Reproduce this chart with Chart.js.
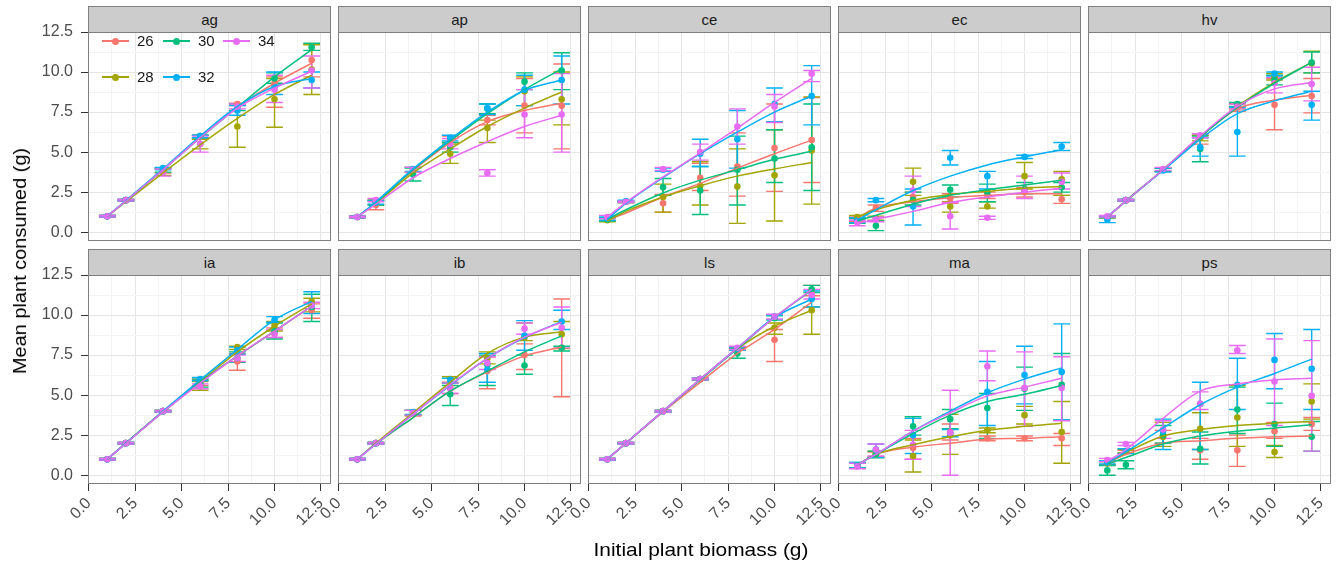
<!DOCTYPE html>
<html>
<head>
<meta charset="utf-8">
<script src="https://cdn.jsdelivr.net/npm/chart.js@4.4.0/dist/chart.umd.min.js"></script>
<style>
    body { margin: 0; background: #fff; font-family: 'Liberation Sans', Arial, sans-serif; }
    #wrap { position: relative; width: 1343px; height: 564px; overflow: hidden; }
    .cell { position: absolute; }
    .strip { position: absolute; background: #cccccc; border: 1px solid #7f7f7f; box-sizing: border-box;
             text-align: center; font-size: 15px; color: #1a1a1a; }
    .title { position: absolute; font-size: 19px; color: #000; white-space: nowrap; }
    .key { position: absolute; height: 1.5px; width: 27px; }
    .dot { position: absolute; width: 7px; height: 7px; border-radius: 50%; left: 10px; top: -2.75px; }
    .ltext { position: absolute; font-size: 15px; color: #1a1a1a; line-height: 16px; }
</style>
</head>
<body>
<div id="wrap"></div>
<script>
const xVals = [1, 2, 4, 6, 8, 10, 12];
const temps = ['26', '28', '30', '32', '34'];
const colors = ['#F8766D', '#A3A500', '#00BF7D', '#00B0F6', '#E76BF3'];

// rows: 26, 28, 30, 32, 34 ; columns: xVals
const agMean = [[1.0, 2.0, 3.85, 5.95, 8.0, 9.3, 10.75], [1.0, 2.0, 3.8, 5.5, 6.6, 8.3, 10.15], [1.0, 2.0, 3.9, 6.0, 7.8, 9.6, 11.55], [1.0, 2.0, 4.0, 6.0, 7.6, 9.1, 9.5], [1.0, 2.0, 3.75, 5.5, 7.85, 8.9, 10.1]];
const agLo = [[0.95, 1.95, 3.7, 5.85, 7.9, 7.8, 9.7], [0.95, 1.95, 3.55, 5.2, 5.3, 6.55, 8.6], [0.95, 1.95, 3.75, 5.9, 7.6, 9.3, 11.35], [0.95, 1.95, 3.9, 5.9, 7.3, 8.6, 9.0], [0.95, 1.95, 3.5, 5.0, 7.7, 8.1, 9.0]];
const agHi = [[1.05, 2.05, 4.0, 6.05, 8.05, 9.7, 11.75], [1.05, 2.05, 4.0, 5.8, 7.95, 9.6, 11.7], [1.05, 2.05, 4.0, 6.05, 8.0, 9.95, 11.8], [1.05, 2.05, 4.05, 6.05, 7.9, 10.0, 10.0], [1.05, 2.05, 3.95, 6.0, 8.0, 9.8, 11.0]];
const agFit = [[1.0, 1.95, 3.9, 5.9, 7.8, 9.3, 10.55], [1.0, 1.9, 3.7, 5.45, 7.1, 8.6, 9.8], [1.0, 1.95, 3.9, 5.9, 7.8, 9.7, 11.4], [1.0, 1.97, 3.95, 6.0, 7.85, 9.1, 9.6], [1.0, 1.95, 3.9, 5.9, 7.75, 9.0, 10.05]];

const apMean = [[0.95, 1.7, 3.9, 5.8, 7.0, 7.9, 7.9], [0.95, 1.85, 3.9, 4.9, 6.5, 8.8, 8.3], [0.95, 1.85, 3.6, 5.3, 7.7, 9.4, 10.1], [0.95, 1.85, 3.95, 5.9, 7.75, 8.9, 9.5], [0.95, 2.0, 3.9, 5.5, 3.7, 7.35, 7.35]];
const apLo = [[0.9, 1.4, 3.75, 5.6, 6.7, 6.2, 5.2], [0.9, 1.7, 3.75, 4.3, 5.6, 7.9, 6.7], [0.9, 1.7, 3.2, 5.0, 7.4, 8.9, 8.9], [0.9, 1.75, 3.8, 5.7, 7.35, 7.9, 8.0], [0.9, 1.9, 3.75, 5.2, 3.5, 5.9, 5.0]];
const apHi = [[1.0, 2.0, 4.05, 6.0, 7.3, 9.6, 10.5], [1.0, 2.0, 4.05, 5.5, 7.0, 9.7, 10.0], [1.0, 2.0, 4.0, 5.6, 8.0, 9.95, 11.2], [1.0, 1.95, 4.05, 6.05, 8.0, 9.8, 11.0], [1.0, 2.1, 4.05, 5.85, 3.9, 8.9, 9.9]];
const apFit = [[0.95, 1.85, 3.85, 5.6, 6.9, 7.6, 8.05], [0.95, 1.8, 3.7, 5.2, 6.6, 7.75, 8.75], [0.95, 1.85, 3.9, 5.7, 7.4, 8.9, 10.2], [0.95, 1.9, 3.95, 5.8, 7.5, 8.85, 9.5], [0.95, 1.75, 3.4, 4.6, 5.65, 6.6, 7.3]];

const ceMean = [[0.8, 1.9, 1.8, 3.4, 4.1, 5.25, 5.75], [0.75, 1.9, 2.2, 2.9, 2.85, 3.55, 5.1], [0.8, 1.9, 2.8, 2.6, 3.9, 4.6, 5.3], [0.85, 1.95, 3.9, 4.9, 5.8, 8.0, 8.5], [0.95, 1.9, 3.95, 5.0, 6.6, 7.85, 9.9]];
const ceLo = [[0.7, 1.85, 1.25, 2.6, 2.25, 2.55, 3.1], [0.65, 1.85, 1.25, 1.7, 0.55, 0.7, 1.75], [0.7, 1.85, 2.3, 1.1, 1.7, 3.1, 2.6], [0.75, 1.9, 3.8, 4.1, 4.0, 6.9, 6.7], [0.85, 1.85, 3.85, 4.5, 5.5, 6.85, 9.4]];
const ceHi = [[0.9, 1.95, 2.35, 4.3, 6.2, 8.0, 8.4], [0.85, 1.95, 3.0, 4.4, 5.2, 6.4, 8.45], [0.9, 1.95, 3.35, 4.1, 6.0, 6.4, 8.0], [0.95, 2.0, 4.0, 5.8, 7.6, 9.0, 10.4], [1.05, 1.95, 4.05, 5.5, 7.7, 8.6, 10.1]];
const ceFit = [[0.75, 1.2, 2.2, 3.05, 4.0, 4.9, 5.75], [0.7, 1.3, 2.2, 2.9, 3.5, 3.95, 4.35], [0.8, 1.4, 2.45, 3.25, 3.9, 4.55, 5.05], [0.8, 1.8, 3.4, 4.9, 6.25, 7.5, 8.5], [0.95, 1.85, 3.45, 4.95, 6.5, 8.1, 9.6]];

const ecMean = [[0.8, 1.5, 2.2, 2.1, 2.3, 2.5, 2.05], [0.95, 0.87, 3.15, 1.6, 1.6, 3.5, 3.3], [0.7, 0.4, 2.0, 2.65, 2.5, 2.7, 2.8], [0.75, 2.0, 1.6, 4.65, 3.5, 4.7, 5.35], [0.6, 0.8, 2.6, 1.0, 0.9, 2.6, 3.15]];
const ecLo = [[0.65, 1.3, 1.9, 1.8, 2.1, 2.2, 1.8], [0.85, 0.75, 2.3, 1.25, 1.5, 2.7, 2.3], [0.55, 0.1, 1.7, 2.2, 1.9, 2.4, 2.5], [0.6, 1.9, 0.45, 4.2, 2.7, 4.6, 5.1], [0.4, 0.65, 1.6, 0.2, 0.8, 2.1, 2.7]];
const ecHi = [[0.95, 1.7, 2.5, 2.4, 2.5, 2.8, 2.3], [1.05, 1.0, 4.0, 1.9, 1.9, 4.35, 3.8], [0.85, 0.7, 2.5, 2.95, 3.0, 3.1, 3.1], [0.9, 2.1, 2.7, 5.1, 3.8, 4.8, 5.6], [0.75, 0.95, 3.5, 1.85, 1.0, 3.5, 3.7]];
const ecFit = [[0.9, 1.5, 1.9, 2.15, 2.3, 2.4, 2.4], [0.95, 1.4, 2.0, 2.35, 2.55, 2.75, 2.85], [0.7, 1.05, 1.75, 2.3, 2.65, 2.95, 3.25], [0.75, 1.4, 2.6, 3.5, 4.2, 4.7, 5.15], [0.55, 0.8, 1.3, 1.85, 2.2, 2.5, 2.75]];

const hvMean = [[0.95, 2.0, 3.9, 5.9, 7.8, 7.95, 8.5], [0.95, 2.0, 3.9, 5.9, 7.9, 9.7, 10.55], [0.95, 2.0, 3.9, 5.2, 8.0, 9.5, 10.6], [0.8, 2.0, 3.85, 5.3, 6.25, 9.9, 7.95], [1.0, 2.0, 3.95, 6.05, 7.85, 9.3, 9.25]];
const hvLo = [[0.9, 1.95, 3.8, 5.5, 7.55, 6.4, 7.45], [0.9, 1.95, 3.8, 5.7, 7.7, 9.5, 9.95], [0.9, 1.95, 3.8, 4.4, 7.85, 9.2, 9.95], [0.6, 1.95, 3.75, 4.75, 4.75, 9.75, 7.0], [0.95, 1.95, 3.85, 5.9, 7.7, 8.7, 8.2]];
const hvHi = [[1.0, 2.05, 4.0, 6.05, 8.0, 9.6, 9.6], [1.0, 2.05, 4.0, 6.05, 8.05, 9.9, 11.3], [1.0, 2.05, 4.0, 6.0, 8.1, 9.8, 11.25], [1.0, 2.05, 4.0, 5.9, 7.8, 10.0, 8.8], [1.05, 2.05, 4.05, 6.15, 8.0, 9.65, 10.3]];
const hvFit = [[0.95, 1.95, 3.9, 5.95, 7.7, 8.25, 8.55], [0.95, 1.95, 3.9, 5.95, 7.85, 9.35, 10.6], [0.95, 1.95, 3.9, 5.95, 7.8, 9.3, 10.6], [0.95, 1.95, 3.85, 5.8, 7.4, 8.2, 8.8], [0.95, 1.95, 3.9, 6.0, 7.85, 8.95, 9.35]];

const iaMean = [[1.0, 2.0, 4.0, 5.8, 7.1, 8.9, 10.3], [1.0, 2.0, 4.0, 5.55, 8.0, 9.35, 10.85], [1.0, 2.0, 4.0, 5.7, 7.3, 9.0, 10.5], [1.0, 2.0, 4.0, 6.0, 7.8, 9.7, 10.6], [1.0, 2.0, 4.0, 5.55, 7.3, 8.8, 10.6]];
const iaLo = [[0.95, 1.95, 3.95, 5.6, 6.55, 8.6, 9.8], [0.95, 1.95, 3.95, 5.3, 7.85, 9.0, 10.2], [0.95, 1.95, 3.95, 5.5, 7.05, 8.5, 9.6], [0.95, 1.95, 3.95, 5.9, 7.55, 9.55, 10.1], [0.95, 1.95, 3.95, 5.4, 7.1, 8.6, 10.4]];
const iaHi = [[1.05, 2.05, 4.05, 6.0, 7.6, 9.2, 10.7], [1.05, 2.05, 4.05, 5.85, 8.05, 9.6, 11.05], [1.05, 2.05, 4.05, 6.0, 7.7, 9.5, 11.3], [1.05, 2.05, 4.05, 6.1, 8.0, 9.9, 11.45], [1.05, 2.05, 4.05, 5.7, 7.5, 9.1, 10.8]];
const iaFit = [[1.0, 2.0, 3.95, 5.8, 7.45, 9.0, 10.55], [1.0, 2.0, 4.0, 5.85, 7.7, 9.3, 10.7], [1.0, 2.0, 3.95, 5.8, 7.45, 9.0, 10.55], [1.0, 2.0, 4.0, 5.95, 7.85, 9.7, 10.85], [1.0, 1.98, 3.95, 5.75, 7.45, 9.0, 10.55]];

const ibMean = [[1.0, 2.0, 3.9, 5.5, 6.5, 7.5, 7.95], [1.0, 2.0, 3.9, 6.0, 7.3, 8.6, 8.8], [1.0, 2.0, 3.9, 5.05, 6.9, 6.85, 7.95], [1.0, 2.0, 3.95, 5.95, 6.6, 8.7, 9.6], [1.0, 2.0, 3.9, 5.4, 7.0, 9.15, 9.2]];
const ibLo = [[0.95, 1.95, 3.7, 5.1, 5.4, 6.6, 4.9], [0.95, 1.95, 3.75, 5.75, 6.95, 8.4, 7.9], [0.95, 1.95, 3.75, 4.35, 5.6, 6.3, 7.75], [0.95, 1.95, 3.8, 5.75, 5.8, 7.8, 9.1], [0.95, 1.95, 3.75, 5.1, 6.6, 8.8, 7.95]];
const ibHi = [[1.05, 2.05, 4.05, 5.8, 7.4, 8.2, 11.0], [1.05, 2.05, 4.05, 6.15, 7.7, 9.5, 9.6], [1.05, 2.05, 4.05, 5.6, 7.5, 7.5, 8.05], [1.05, 2.05, 4.05, 6.05, 7.6, 9.65, 10.3], [1.05, 2.05, 4.05, 5.75, 7.4, 9.5, 10.5]];
const ibFit = [[1.0, 1.95, 3.6, 5.25, 6.45, 7.45, 8.0], [1.0, 2.0, 3.9, 5.8, 7.6, 8.62, 8.95], [1.0, 1.95, 3.6, 5.25, 6.5, 7.7, 8.7], [1.0, 1.95, 3.8, 5.6, 7.3, 8.6, 9.6], [1.0, 1.95, 3.8, 5.65, 7.3, 8.62, 9.55]];

const lsMean = [[1.0, 2.0, 4.0, 6.0, 7.9, 8.45, 11.4], [1.0, 2.0, 4.0, 6.0, 7.9, 9.2, 10.3], [1.0, 2.0, 4.0, 6.0, 7.6, 9.8, 11.6], [1.0, 2.0, 4.0, 6.0, 7.9, 9.9, 11.0], [1.0, 2.0, 4.0, 6.0, 7.95, 9.9, 11.25]];
const lsLo = [[0.95, 1.95, 3.95, 5.95, 7.8, 7.1, 11.2], [0.95, 1.95, 3.95, 5.95, 7.8, 8.8, 8.8], [0.95, 1.95, 3.95, 5.95, 7.3, 9.7, 11.4], [0.95, 1.95, 3.95, 5.95, 7.8, 9.7, 10.5], [0.95, 1.95, 3.95, 5.95, 7.85, 9.75, 11.0]];
const lsHi = [[1.05, 2.05, 4.05, 6.05, 8.0, 9.1, 11.85], [1.05, 2.05, 4.05, 6.05, 8.0, 9.5, 10.5], [1.05, 2.05, 4.05, 6.05, 7.9, 9.95, 11.85], [1.05, 2.05, 4.05, 6.05, 8.0, 10.0, 11.5], [1.05, 2.05, 4.05, 6.05, 8.05, 10.05, 11.6]];
const lsFit = [[1.0, 2.0, 3.95, 5.8, 7.6, 9.1, 10.8], [1.0, 2.0, 4.0, 5.95, 7.9, 9.3, 10.3], [1.0, 2.0, 4.0, 5.95, 7.9, 9.85, 11.55], [1.0, 2.0, 4.0, 6.0, 7.95, 9.85, 11.0], [1.0, 2.0, 4.0, 6.0, 7.95, 9.85, 11.6]];

const maMean = [[0.6, 1.3, 1.7, 2.7, 2.3, 2.3, 2.3], [0.6, 1.3, 1.2, 2.5, 2.8, 3.75, 2.7], [0.6, 1.3, 3.05, 3.5, 4.2, 5.4, 5.65], [0.6, 1.6, 2.5, 2.6, 5.2, 6.25, 6.45], [0.55, 1.6, 1.9, 2.65, 6.8, 5.45, 5.45]];
const maLo = [[0.45, 1.15, 1.0, 2.2, 2.15, 2.15, 1.85], [0.45, 1.1, 0.2, 1.3, 2.65, 3.2, 0.75], [0.45, 1.1, 2.5, 2.9, 2.3, 4.05, 3.45], [0.45, 1.1, 1.35, 2.4, 3.1, 4.45, 3.45], [0.4, 1.2, 1.0, 0.0, 5.9, 3.05, 3.4]];
const maHi = [[0.75, 1.45, 2.3, 3.2, 2.45, 2.45, 2.6], [0.75, 1.5, 2.2, 3.8, 2.95, 4.3, 4.6], [0.8, 1.5, 3.65, 4.1, 5.1, 6.75, 7.6], [0.8, 1.95, 3.55, 2.85, 7.1, 8.05, 9.45], [0.75, 1.95, 2.8, 5.3, 7.75, 7.7, 7.4]];
const maFit = [[0.65, 1.3, 1.75, 2.0, 2.25, 2.3, 2.4], [0.65, 1.3, 1.9, 2.4, 2.8, 3.05, 3.25], [0.65, 1.3, 2.6, 3.75, 4.6, 5.05, 5.6], [0.65, 1.3, 2.75, 4.0, 5.15, 6.0, 6.7], [0.65, 1.3, 2.75, 3.9, 4.95, 5.5, 6.05]];

const psMean = [[0.75, 1.45, 2.4, 1.55, 1.55, 2.75, 3.2], [0.75, 1.5, 2.4, 2.9, 3.6, 1.45, 4.6], [0.3, 0.65, 2.5, 1.65, 4.1, 3.2, 2.4], [0.8, 1.5, 2.75, 4.45, 5.65, 7.2, 6.65], [0.95, 1.95, 2.85, 4.45, 7.8, 5.85, 4.95]];
const psLo = [[0.65, 1.35, 2.0, 1.0, 0.55, 2.3, 2.8], [0.65, 1.4, 1.8, 1.6, 1.8, 1.1, 3.5], [0.0, 0.4, 2.0, 0.7, 2.6, 1.8, 1.5], [0.7, 1.35, 1.6, 1.6, 4.1, 5.4, 4.1], [0.85, 1.85, 2.3, 4.1, 7.6, 3.1, 1.5]];
const psHi = [[0.85, 1.55, 2.8, 2.3, 2.5, 3.3, 3.6], [0.85, 1.6, 3.3, 3.9, 5.6, 1.85, 5.7], [0.6, 0.9, 3.1, 2.7, 5.5, 4.5, 3.35], [0.9, 1.65, 3.5, 5.8, 7.3, 8.85, 9.1], [1.05, 2.05, 3.4, 5.2, 8.1, 8.5, 8.4]];
const psFit = [[0.75, 1.3, 2.0, 2.15, 2.3, 2.4, 2.45], [0.75, 1.4, 2.45, 2.85, 3.1, 3.25, 3.35], [0.7, 1.1, 1.95, 2.45, 2.75, 2.95, 3.15], [0.75, 1.45, 2.95, 4.4, 5.5, 6.35, 7.25], [0.85, 1.6, 3.55, 5.25, 5.7, 5.95, 6.05]];

const panels = [
    ['ag', agMean, agLo, agHi, agFit], ['ap', apMean, apLo, apHi, apFit],
    ['ce', ceMean, ceLo, ceHi, ceFit], ['ec', ecMean, ecLo, ecHi, ecFit],
    ['hv', hvMean, hvLo, hvHi, hvFit], ['ia', iaMean, iaLo, iaHi, iaFit],
    ['ib', ibMean, ibLo, ibHi, ibFit], ['ls', lsMean, lsLo, lsHi, lsFit],
    ['ma', maMean, maLo, maHi, maFit], ['ps', psMean, psLo, psHi, psFit]
];

// layout of the facet grid (pixels)
const colLeft = [88, 338, 588, 838, 1088];
const rowTop = [32, 275];
const plotW = 243, plotH = 209, stripH = 27;
const padL = 88, padR = 30, padT = 30, padB = 70;

Chart.defaults.font.family = "'Liberation Sans', Arial, sans-serif";

const isMajor = v => Math.abs(v / 2.5 - Math.round(v / 2.5)) < 1e-6;

const errorBars = {
    id: 'errorBars',
    beforeDatasetsDraw(chart) {
        const { ctx, chartArea: a, scales: { x, y } } = chart;
        ctx.save();
        ctx.beginPath();
        ctx.rect(a.left, a.top, a.width, a.height);
        ctx.clip();
        ctx.lineWidth = 1.4;
        chart.data.datasets.forEach(ds => {
            if (!ds.errLo) return;
            ctx.strokeStyle = ds.backgroundColor;
            ds.data.forEach((p, i) => {
                const px = x.getPixelForValue(p.x);
                const x0 = x.getPixelForValue(p.x - 0.45);
                const x1 = x.getPixelForValue(p.x + 0.45);
                const yl = y.getPixelForValue(ds.errLo[i]);
                const yh = y.getPixelForValue(ds.errHi[i]);
                ctx.beginPath();
                ctx.moveTo(px, yl); ctx.lineTo(px, yh);
                ctx.moveTo(x0, yl); ctx.lineTo(x1, yl);
                ctx.moveTo(x0, yh); ctx.lineTo(x1, yh);
                ctx.stroke();
            });
        });
        ctx.restore();
    }
};

const panelBox = {
    id: 'panelBox',
    afterDraw(chart) {
        const { ctx, chartArea: a } = chart;
        ctx.save();
        ctx.strokeStyle = '#7f7f7f';
        ctx.lineWidth = 1;
        ctx.strokeRect(Math.round(a.left) + 0.5, Math.round(a.top) + 0.5, Math.round(a.width) - 1, Math.round(a.height) - 1);
        ctx.restore();
    }
};

function makePanel(idx) {
    const [name, mean, lo, hi, fit] = panels[idx];
    const col = idx % 5, row = Math.floor(idx / 5);
    const wrap = document.getElementById('wrap');

    const strip = document.createElement('div');
    strip.className = 'strip';
    strip.style.left = colLeft[col] + 'px';
    strip.style.top = (rowTop[row] - stripH + 1) + 'px';
    strip.style.width = plotW + 'px';
    strip.style.height = stripH + 'px';
    strip.style.lineHeight = (stripH - 2) + 'px';
    strip.textContent = name;
    wrap.appendChild(strip);

    const cell = document.createElement('div');
    cell.className = 'cell';
    cell.style.left = (colLeft[col] - padL) + 'px';
    cell.style.top = (rowTop[row] - padT) + 'px';
    cell.style.width = (padL + plotW + padR) + 'px';
    cell.style.height = (padT + plotH + padB) + 'px';
    const canvas = document.createElement('canvas');
    cell.appendChild(canvas);
    wrap.appendChild(cell);

    const datasets = [];
    temps.forEach((t, i) => {
        datasets.push({
            label: t,
            data: xVals.map((x, j) => ({ x: x, y: fit[i][j] })),
            showLine: true,
            borderColor: colors[i],
            borderWidth: 1.5,
            pointRadius: 0,
            cubicInterpolationMode: 'monotone',
            order: 4 - i
        });
    });
    temps.forEach((t, i) => {
        datasets.push({
            label: t,
            data: xVals.map((x, j) => ({ x: x, y: mean[i][j] })),
            errLo: lo[i],
            errHi: hi[i],
            backgroundColor: colors[i],
            borderWidth: 0,
            pointRadius: 3.3,
            order: 9 - i
        });
    });

    const showX = row === 1, showY = col === 0;
    const gridOpts = show => ({
        color: c => isMajor(c.tick.value) ? '#e5e5e5' : '#f3f3f3',
        lineWidth: 1,
        drawTicks: show,
        tickLength: 7,
        tickWidth: 1,
        tickColor: c => isMajor(c.tick.value) ? '#333333' : 'rgba(0,0,0,0)'
    });
    const tickOpts = show => ({
        display: show,
        stepSize: 1.25,
        maxTicksLimit: 20,
        autoSkip: false,
        includeBounds: false,
        color: '#4d4d4d',
        font: { size: 16 },
        callback: v => isMajor(v) ? v.toFixed(1) : ''
    });

    new Chart(canvas, {
        type: 'scatter',
        data: { datasets: datasets },
        options: {
            responsive: true,
            maintainAspectRatio: false,
            animation: false,
            layout: { padding: { top: padT, right: padR, bottom: 0, left: 0 } },
            plugins: { legend: { display: false }, tooltip: { enabled: false } },
            scales: {
                x: {
                    type: 'linear', min: -0.04, max: 13.04,
                    border: { display: false },
                    grid: gridOpts(showX),
                    ticks: Object.assign(tickOpts(showX), { minRotation: 45, maxRotation: 45, padding: 3 }),
                    afterFit: s => { s.height = padB; }
                },
                y: {
                    type: 'linear', min: -0.55, max: 12.5,
                    border: { display: false },
                    grid: gridOpts(showY),
                    ticks: Object.assign(tickOpts(showY), { padding: 8 }),
                    afterFit: s => { s.width = padL; }
                }
            }
        },
        plugins: [errorBars, panelBox]
    });
}

panels.forEach((p, i) => makePanel(i));

// legend inside the first panel, arranged by columns like the original
const legendSlots = [
    { t: 0, x: 102, y: 41 }, { t: 1, x: 102, y: 77 },
    { t: 2, x: 163, y: 41 }, { t: 3, x: 163, y: 77 },
    { t: 4, x: 223, y: 41 }
];
const wrapEl = document.getElementById('wrap');
legendSlots.forEach(s => {
    const key = document.createElement('div');
    key.className = 'key';
    key.style.left = s.x + 'px';
    key.style.top = (s.y - 0.75) + 'px';
    key.style.background = colors[s.t];
    const dot = document.createElement('div');
    dot.className = 'dot';
    dot.style.background = colors[s.t];
    key.appendChild(dot);
    wrapEl.appendChild(key);
    const txt = document.createElement('div');
    txt.className = 'ltext';
    txt.style.left = (s.x + 35) + 'px';
    txt.style.top = (s.y - 8) + 'px';
    txt.textContent = temps[s.t];
    wrapEl.appendChild(txt);
});

const xt = document.createElement('div');
xt.className = 'title';
xt.textContent = 'Initial plant biomass (g)';
xt.style.left = '701px';
xt.style.top = '550px';
xt.style.transform = 'translate(-50%, -50%) scaleX(1.1)';
wrapEl.appendChild(xt);

const yt = document.createElement('div');
yt.className = 'title';
yt.textContent = 'Mean plant consumed (g)';
yt.style.left = '20px';
yt.style.top = '261px';
yt.style.transform = 'translate(-50%, -50%) rotate(-90deg) scaleX(1.05)';
wrapEl.appendChild(yt);
</script>
</body>
</html>
